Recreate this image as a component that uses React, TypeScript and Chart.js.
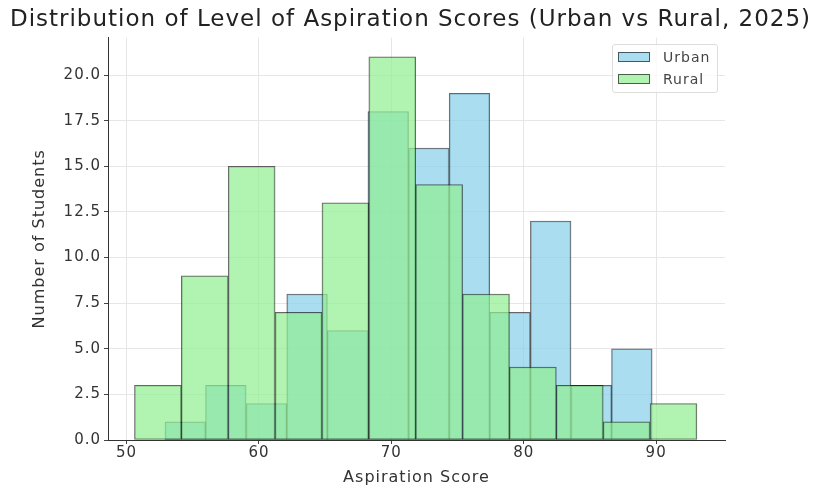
import React, { useEffect, useRef } from "react";
import { Chart, registerables } from "chart.js";

Chart.register(...registerables);

// ---- data ----
const seriesNames = ["Urban", "Rural"];
const urbanEdges = [52.9, 55.97, 59.03, 62.1, 65.17, 68.23, 71.3, 74.37, 77.43, 80.5, 83.57, 86.63, 89.7];
const urbanCounts = [1, 3, 2, 8, 6, 18, 16, 19, 7, 12, 3, 5];
const ruralEdges = [50.6, 54.14, 57.68, 61.22, 64.76, 68.3, 71.84, 75.38, 78.92, 82.46, 86.0, 89.54, 93.08];
const ruralCounts = [3, 9, 15, 7, 13, 21, 14, 8, 4, 3, 1, 2];
const xTickValues = [50, 60, 70, 80, 90];
const yTickValues = [0, 2.5, 5, 7.5, 10, 12.5, 15, 17.5, 20];
const xRange = [48.6, 95.2];
const yRange = [0, 22.05];
const titleText = "Distribution of Level of Aspiration Scores (Urban vs Rural, 2025)";
const xTitle = "Aspiration Score";
const yTitle = "Number of Students";

const urbanFill = "rgba(135,206,235,0.7)";
const ruralFill = "rgba(144,238,144,0.7)";
const edgeColor = "rgba(0,0,0,0.6)";
const FONT = "'DejaVu Sans', Verdana, sans-serif";

const toPoints = (edges: number[], counts: number[]) =>
  counts.map((c, i) => ({ x: (edges[i] + edges[i + 1]) / 2, y: c }));

const spacingPlugin = {
  id: "letterSpacing",
  beforeUpdate(chart: any) {
    chart.ctx.letterSpacing = "1px";
  },
  beforeDraw(chart: any) {
    chart.ctx.letterSpacing = "1px";
  },
};

export default function App() {
  const ref = useRef<HTMLCanvasElement | null>(null);

  useEffect(() => {
    if (!ref.current) return;
    const chart = new Chart(ref.current, {
      type: "bar",
      data: {
        datasets: [
          {
            label: seriesNames[0],
            data: toPoints(urbanEdges, urbanCounts),
            backgroundColor: urbanFill,
            borderColor: edgeColor,
            borderWidth: 1,
            borderSkipped: false,
            stack: "hist",
            order: 2,
          } as any,
          {
            label: seriesNames[1],
            data: toPoints(ruralEdges, ruralCounts),
            backgroundColor: ruralFill,
            borderColor: edgeColor,
            borderWidth: 1,
            borderSkipped: false,
            stack: "hist",
            order: 1,
          } as any,
        ],
      },
      options: {
        responsive: false,
        animation: false,
        devicePixelRatio: 1,
        layout: { padding: 0 },
        plugins: {
          legend: { display: false },
          tooltip: { enabled: false },
          title: {
            display: true,
            text: titleText,
            color: "#222",
            font: { family: FONT, size: 23, weight: "normal" },
            padding: { top: 6, bottom: 4 },
          },
        },
        scales: {
          x: {
            type: "linear",
            min: xRange[0],
            max: xRange[1],
            offset: false,
            stacked: true,
            afterBuildTicks: (s: any) => {
              s.ticks = xTickValues.map((v) => ({ value: v }));
            },
            afterFit: (s: any) => {
              s.height = 50;
            },
            ticks: {
              includeBounds: false,
              color: "#333",
              font: { family: FONT, size: 15 },
              padding: 0,
              maxRotation: 0,
              callback: (v: any) => String(v),
            },
            grid: {
              offset: false,
              color: "#e6e6e6",
              lineWidth: 1,
              drawTicks: true,
              tickLength: 4,
              tickColor: "#444",
            },
            border: { display: true, color: "#333", width: 1 },
            title: {
              display: true,
              text: xTitle,
              color: "#333",
              font: { family: FONT, size: 16 },
              padding: { top: 0, bottom: 3 },
            },
          },
          y: {
            type: "linear",
            min: yRange[0],
            max: yRange[1],
            stacked: false,
            afterBuildTicks: (s: any) => {
              s.ticks = yTickValues.map((v) => ({ value: v }));
            },
            afterFit: (s: any) => {
              s.width = 108;
            },
            ticks: {
              includeBounds: false,
              color: "#333",
              font: { family: FONT, size: 15 },
              padding: 3,
              callback: (v: any) => Number(v).toFixed(1),
            },
            grid: {
              color: "#e6e6e6",
              lineWidth: 1,
              drawTicks: true,
              tickLength: 4,
              tickColor: "#444",
            },
            border: { display: true, color: "#333", width: 1 },
            title: {
              display: true,
              text: yTitle,
              color: "#333",
              font: { family: FONT, size: 16 },
              padding: { top: 30, bottom: 0 },
            },
          },
          spacer: {
            type: "linear",
            position: "right",
            min: 0,
            max: 1,
            display: true,
            afterFit: (s: any) => {
              s.width = 96;
            },
            ticks: { display: false },
            grid: { display: false, drawTicks: false },
            border: { display: false },
          },
        },
      } as any,
      plugins: [spacingPlugin],
    });

    // bar widths from the bin edges through the x scale
    const x = chart.scales.x;
    [urbanEdges, ruralEdges].forEach((edges, i) => {
      const w =
        (x.getPixelForValue(edges[edges.length - 1]) - x.getPixelForValue(edges[0])) /
        (edges.length - 1);
      (chart.data.datasets[i] as any).barThickness = w;
    });
    chart.update();

    return () => chart.destroy();
  }, []);

  const swatch = (bg: string) => ({
    position: "absolute" as const,
    left: 5,
    width: 32,
    height: 10,
    background: bg,
    border: `1px solid ${edgeColor}`,
    boxSizing: "border-box" as const,
  });
  const label = {
    position: "absolute" as const,
    left: 50,
    fontFamily: FONT,
    fontSize: 14,
    letterSpacing: "1px",
    color: "#444",
    lineHeight: "14px",
    whiteSpace: "nowrap" as const,
  };

  return (
    <div style={{ position: "absolute", left: 0, top: 0, width: 821, height: 490, background: "#fff" }}>
      <canvas ref={ref} width={821} height={490} style={{ display: "block" }} />
      <div
        style={{
          position: "absolute",
          left: 612,
          top: 44,
          width: 106,
          height: 49,
          border: "1px solid #dddddd",
          borderRadius: 3,
          background: "rgba(255,255,255,0.8)",
          boxSizing: "border-box",
        }}
      >
        <div style={{ ...swatch(urbanFill), top: 7 }} />
        <div style={{ ...label, top: 5 }}>{seriesNames[0]}</div>
        <div style={{ ...swatch(ruralFill), top: 29 }} />
        <div style={{ ...label, top: 27 }}>{seriesNames[1]}</div>
      </div>
    </div>
  );
}
